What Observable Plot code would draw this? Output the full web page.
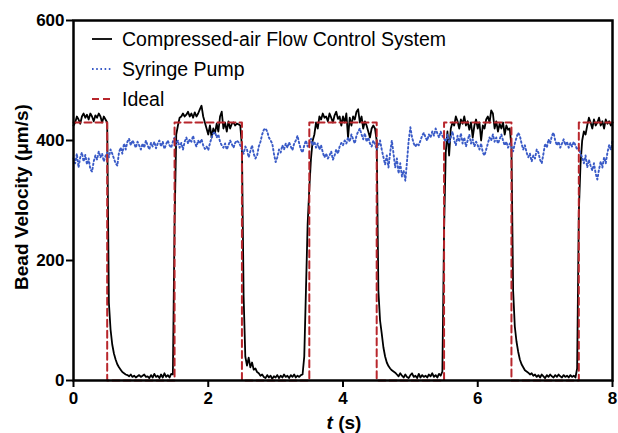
<!DOCTYPE html>
<html>
<head>
<meta charset="utf-8">
<script src="https://cdn.jsdelivr.net/npm/d3@7"></script>
<script src="https://cdn.jsdelivr.net/npm/@observablehq/plot@0.6"></script>
<style>
  body { margin: 0; background: #fff; }
  #wrap { position: relative; width: 618px; height: 433px; font-family: "Liberation Sans", Arial, sans-serif; color: #000; }
  .lbl { position: absolute; white-space: nowrap; font-weight: bold; font-size: 19px; }
  .leg { position: absolute; left: 92px; top: 24px; font-size: 19.5px; }
  .leg .row { display: flex; align-items: center; height: 30px; }
  .leg svg { width: 20px; height: 10px; margin-right: 10px; }
</style>
</head>
<body>
<div id="wrap"></div>
<script>
// sampling interval of the recorded traces (s)
const dt = 0.025;

// Compressed-air Flow Control System (µm/s), t = 0 .. 8 s
const airFlow = [
  425,430,440,435,428,440,445,438,443,435,
  445,440,432,442,438,445,440,430,440,435,
  430,130,85,60,45,35,27,22,18,14,
  12,10,9,7,10,6,8,5,7,9,
  6,
  8,10,6,7,4,9,5,11,6,8,
  4,10,5,12,6,9,5,11,10,260,
  410,425,438,440,445,440,443,448,440,445,
  438,447,440,445,452,458,440,430,420,410,
  425,405,420,412,428,415,440,448,420,430,
  415,432,420,428,430,425,428,427,425,390,
  140,40,25,38,22,30,18,20,14,12,
  8,10,6,4,9,5,8,3,7,5,
  9,4,8,5,10,6,8,4,9,6,
  10,5,8,6,9,10,40,150,260,320,
  370,400,410,430,420,440,435,445,438,440,
  432,445,438,430,442,448,436,440,425,440,
  430,445,405,438,425,440,435,448,452,430,
  440,420,432,425,415,405,420,425,420,400,
  150,100,78,55,40,30,24,20,17,15,
  13,10,7,12,8,5,10,6,4,9,
  12,6,8,4,11,5,9,6,8,5,
  10,7,12,6,9,5,11,8,15,250,
  380,415,375,420,430,425,440,432,420,435,
  428,440,425,432,418,430,405,425,435,420,
  430,400,425,420,435,440,430,450,445,420,
  432,415,428,420,430,410,425,418,420,390,
  150,90,65,48,35,27,22,17,15,13,
  10,12,8,10,6,9,5,10,7,4,
  9,6,10,7,5,9,6,10,7,5,
  9,6,8,5,9,6,8,5,20,280,
  360,400,415,410,425,438,430,420,435,425,
  430,438,425,432,420,435,428,432,425,430
];

// Syringe Pump (µm/s), t = 0 .. 8 s
const syringe = [
  370,362,378,355,372,380,365,376,360,370,
  352,348,365,375,368,382,372,378,365,374,
  380,372,385,378,370,362,358,380,388,378,
  395,385,398,403,392,400,395,388,398,392,
  385,
  395,388,400,392,385,396,390,398,387,395,
  400,390,398,386,394,400,392,388,398,405,
  392,400,388,396,385,398,405,395,402,398,
  408,396,390,400,395,402,392,386,390,384,
  395,405,412,414,405,410,398,392,388,395,
  385,392,400,394,388,396,400,397,392,385,
  378,390,385,372,382,392,378,370,375,390,
  398,410,418,420,415,405,400,395,378,364,
  372,385,380,392,385,395,388,397,390,384,
  395,400,408,395,385,380,392,400,390,395,
  403,392,398,388,395,385,392,380,372,378,
  370,375,382,368,375,385,378,390,396,392,
  400,395,405,398,410,402,395,408,415,420,
  410,402,412,398,405,395,390,400,394,385,
  392,400,385,372,360,375,355,380,400,378,
  355,370,345,362,340,350,333,365,400,422,
  405,395,390,395,392,400,408,413,405,400,
  410,405,415,408,420,412,405,415,408,403,
  398,410,395,405,415,400,392,408,398,412,
  395,405,390,400,410,395,402,390,398,392,
  385,395,380,375,385,395,405,400,410,398,
  405,395,402,410,400,392,398,388,395,390,
  382,395,405,413,408,395,385,392,380,372,
  378,365,375,370,385,380,368,362,378,395,
  388,402,395,408,413,400,392,398,388,395,
  402,392,398,388,396,390,398,392,385,388,
  378,372,362,375,355,368,358,350,362,345,
  335,352,365,355,372,362,380,392,385,400
];

// Ideal square wave
const idealT = [0,0.5,0.5,1.5,1.5,2.5,2.5,3.5,3.5,4.5,4.5,5.5,5.5,6.5,6.5,7.5,7.5,8];
const idealV = [430,430,0,0,430,430,0,0,430,430,0,0,430,430,0,0,430,430];

const xTicks = [0,2,4,6,8];
const yTicks = [0,200,400,600];
const seriesNames = ["Compressed-air Flow Control System","Syringe Pump","Ideal"];
const colors = ["#000000","#3a5bc7","#b8262c"];
const dashes = ["none","1.6,2.6","7,4"];
const widths = [1.8,1.9,2];

const airData = airFlow.map((v,i) => ({t: i*dt, v}));
const syrData = syringe.map((v,i) => ({t: i*dt, v}));
const idealData = idealT.map((t,i) => ({t, v: idealV[i]}));

const chart = Plot.plot({
  width: 618, height: 433,
  marginLeft: 73, marginRight: 6, marginTop: 20, marginBottom: 53,
  x: {domain: [0,8]},
  y: {domain: [0,600]},
  style: {fontFamily: '"Liberation Sans", Arial, sans-serif', fontSize: "17px", color: "#000", background: "#fff"},
  marks: [
    Plot.line(airData, {x: "t", y: "v", stroke: colors[0], strokeWidth: widths[0]}),
    Plot.line(syrData, {x: "t", y: "v", stroke: colors[1], strokeWidth: widths[1], strokeDasharray: dashes[1]}),
    Plot.line(idealData, {x: "t", y: "v", stroke: colors[2], strokeWidth: widths[2], strokeDasharray: dashes[2]}),
    Plot.frame({stroke: "#000", strokeWidth: 2.5}),
    Plot.axisX({ticks: xTicks, tickSize: 7, tickPadding: 4, fontWeight: "bold", label: null, strokeWidth: 2}),
    Plot.axisY({ticks: yTicks, tickSize: 7, tickPadding: 2, fontWeight: "bold", label: null, strokeWidth: 2})
  ]
});

const wrap = document.getElementById("wrap");
wrap.appendChild(chart);

// Legend
const leg = document.createElement("div");
leg.className = "leg";
seriesNames.forEach((name, i) => {
  const row = document.createElement("div");
  row.className = "row";
  row.innerHTML = `<svg viewBox="0 0 20 10"><line x1="0" y1="5" x2="20" y2="5" stroke="${colors[i]}" stroke-width="${widths[i]}" ${dashes[i] !== "none" ? `stroke-dasharray="${dashes[i]}"` : ""}/></svg><span>${name}</span>`;
  leg.appendChild(row);
});
wrap.appendChild(leg);

// Axis titles
const yl = document.createElement("div");
yl.className = "lbl";
yl.style.left = "22px"; yl.style.top = "197px";
yl.style.transform = "translate(-50%,-50%) rotate(-90deg)";
yl.textContent = "Bead Velocity (μm/s)";
wrap.appendChild(yl);

const xl = document.createElement("div");
xl.className = "lbl";
xl.style.left = "344px"; xl.style.top = "423px";
xl.style.transform = "translate(-50%,-50%)";
xl.innerHTML = "<i>t</i> (s)";
wrap.appendChild(xl);
</script>
</body>
</html>
